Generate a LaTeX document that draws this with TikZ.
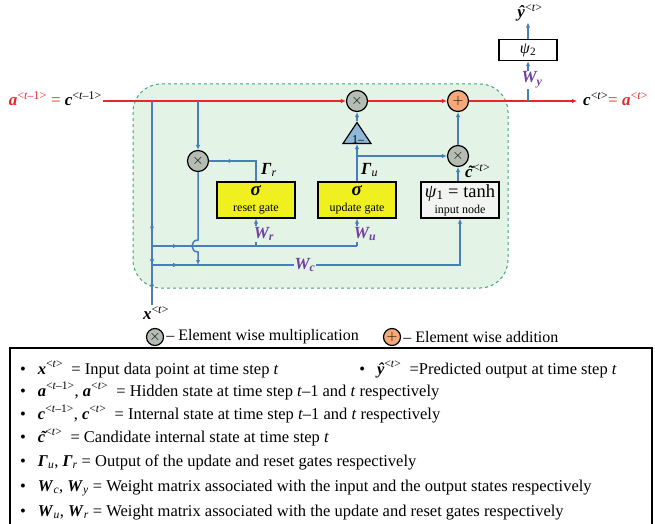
\documentclass[tikz,border=0pt]{standalone}
\usepackage{fontspec}
\setmainfont{Liberation Serif}
\usetikzlibrary{arrows.meta,shapes.geometric,decorations.markings}
\definecolor{redl}{HTML}{E8262C}
\definecolor{bluel}{HTML}{4A7EBB}
\definecolor{cellfill}{HTML}{E3F3E6}
\definecolor{celldraw}{HTML}{3CA878}
\definecolor{gateyel}{HTML}{F0F020}
\definecolor{trifill}{HTML}{8DB8D8}
\definecolor{mulfill}{HTML}{B4BCB4}
\definecolor{addfill}{HTML}{F5A878}
\definecolor{wpurple}{HTML}{7040A0}
\definecolor{inpfill}{HTML}{F2F4F2}
\newcommand\bvar[1]{\textbf{\textit{#1}}}
\newcommand\supt{\textsuperscript{<\textit{t}>}}
\newcommand\suptm{\textsuperscript{<\textit{t}–1>}}
\newcommand\fsz[1]{\fontsize{#1}{#1}\selectfont}
\newcommand\ctil{\bvar{\makebox[0pt][l]{\kern0.16em\smash{˜}}c}}
\tikzset{
  op/.style={circle,draw=black,line width=1.2pt,minimum size=21pt,inner sep=0pt,font=\fsz{14}},
  mulop/.style={op,fill=mulfill},
  addop/.style={op,fill=addfill},
  gatebox/.style={draw=black,line width=1.4pt,fill=gateyel,minimum width=78pt,minimum height=36pt,align=center,inner sep=1pt,font={\fontsize{12}{16}\selectfont}},
  conn/.style={draw=bluel,line width=1.5pt},
  arr/.style={-{Latex[length=5pt,width=4.5pt]}},
  redc/.style={draw=redl,line width=1.5pt},
  wlab/.style={text=wpurple,font=\fsz{17}\bfseries\itshape,fill=cellfill,inner sep=1pt},
  dlab/.style={font=\fsz{17},inner sep=1pt},
  lg/.style={font=\fsz{16.5},inner sep=0pt,anchor=base west},
  midarr/.style={postaction=decorate,decoration={markings,mark=at position #1 with {\arrow{Latex[length=5pt,width=4.5pt]}}}}
}
\begin{document}
\begin{tikzpicture}[x=1pt,y=-1pt]
\useasboundingbox (0,0) rectangle (655,524);
% cell
\draw[fill=cellfill,draw=celldraw,dashed,line width=1pt,rounded corners=28pt] (133,84) rectangle (508,288);
% operators
\node[mulop] (mulR) at (198,161) {$\times$};
\node[mulop] (mulU) at (357,101) {$\times$};
\node[addop] (addC) at (458,101) {$+$};
\node[mulop] (mulC) at (458,156) {$\times$};
\node[isosceles triangle,shape border rotate=90,isosceles triangle stretches,minimum width=28pt,minimum height=21pt,draw=black,line width=1.2pt,fill=trifill,inner sep=0pt] (tri) at (357,136) {};
\node[font=\fsz{12},inner sep=0pt] (trit) at (358,140) {1–};
% gates
\node[gatebox] (reset) at (256,200) {{\fontsize{19}{16}\selectfont\bvar{σ}}\\reset gate};
\node[gatebox] (upd) at (357,200) {{\fontsize{19}{16}\selectfont\bvar{σ}}\\update gate};
\node[gatebox,fill=inpfill] (inp) at (460,200) {{\fontsize{18.5}{16}\selectfont\textit{ψ}\textsubscript{1} = tanh}\\input node};
\node[draw=black,line width=1.4pt,fill=white,minimum width=58pt,minimum height=21pt,inner sep=0pt,font=\fsz{16}] (psi2) at (528,50) {\textit{ψ}\textsubscript{2}};
% coordinates
\coordinate (lstart) at (103,101);
\coordinate (rend) at (577,101);
\coordinate (tapX) at (152,101);
\coordinate (tapR) at (198,101);
\coordinate (tapY) at (528,101);
\coordinate (j1) at (152,246);
\coordinate (j2) at (152,265);
\coordinate (ju) at (357,246);
\coordinate (jr) at (256,246);
\coordinate (bu) at (357,156);
\coordinate (hopA) at (198,240);
\coordinate (hopB) at (198,252);
\coordinate (rin) at (198,265);
% labels
\node[dlab,anchor=base east] (lleft) at (103,106) {\bvar{\textcolor{redl}{a}}\textcolor{redl}{\suptm\ =} \bvar{c}\suptm};
\node[dlab,anchor=base west] (lright) at (582,106) {\bvar{c}\supt\textcolor{redl}{= \bvar{a}\supt}};
\node[dlab] (xlab) at (156,313) {\bvar{x}\supt};
\node[dlab] (yhat) at (530,13) {\bvar{ŷ}\supt};
% red path
\draw[redc,arr] (lstart) -- (mulU);
\draw[redc,arr] (mulU) -- (addC);
\draw[redc,arr] (addC) -- (rend);
% blue connectors
\draw[conn,arr] (tapR) -- (mulR.north);
\draw[conn,midarr=0.9] (tapX) -- (j1);
\draw[conn,midarr=0.5] (j2) -- (j1);
\draw[conn,midarr=0.6] (j2 |- xlab.north) -- (j2);
\draw[conn,midarr=0.127] (j1) -- (ju);
\draw[conn,arr] (ju) -- (upd.south);
\draw[conn,arr] (jr) -- (reset.south);
\draw[conn,arr,midarr=0.074] (j2) -| (inp.south);
\draw[conn,arr] (mulR.south) -- (hopA) .. controls (190,240) and (190,252) .. (hopB) -- (rin);
\draw[conn,midarr=0.76] (reset.north) |- (mulR.east);
\draw[conn,arr] (upd.north) -- (tri.south);
\draw[conn,arr] (bu) -- (mulC.west);
\draw[conn,arr] (tri.apex) -- (mulU.south);
\draw[conn,arr] (inp.north -| mulC) -- (mulC.south);
\draw[conn,arr] (mulC.north) -- (addC.south);
\draw[conn,arr] (tapY) -- (psi2.south);
\draw[conn,arr] (psi2.north) -- (psi2.north |- yhat.south);
% weight labels
\node[wlab] (wr) at (264,234) {W\textsubscript{\textit{r}}};
\node[wlab] (wu) at (365,234) {W\textsubscript{\textit{u}}};
\node[wlab] (wc) at (305,265) {W\textsubscript{\textit{c}}};
\node[wlab,fill=white] (wy) at (532,80) {W\textsubscript{\textit{y}}};
\node[dlab,anchor=west] (gr) at (260,170) {\bvar{Γ}\textsubscript{\textit{r}}};
\node[dlab,anchor=west] (gu) at (360,170) {\bvar{Γ}\textsubscript{\textit{u}}};
\node[dlab,anchor=west] (ct) at (464,171) {\ctil\supt};
% legend
\node[mulop,minimum size=17pt] (lgm) at (155,337) {$\times$};
\node[font=\fsz{16},anchor=west,inner sep=2pt] (lgmt) at (lgm.east) {– Element wise multiplication};
\node[addop,minimum size=17pt] (lga) at (392,337) {$+$};
\node[font=\fsz{16},anchor=west,inner sep=2pt] (lgat) at (lga.east) {– Element wise addition};
\draw[line width=1.3pt] (10,348) rectangle (652,540);
\node[lg] (l1) at (20,374) {•\hspace{12pt}\bvar{x}\supt\ \ = Input data point at time step \textit{t}};
\node[lg,anchor=base east] (l1b) at (617,374) {•\hspace{12pt}\bvar{ŷ}\supt\ \ =Predicted output at time step \textit{t}};
\node[lg] (l2) at (20,396) {•\hspace{12pt}\bvar{a}\suptm, \bvar{a}\supt\ \ = Hidden state at time step \textit{t}–1 and \textit{t} respectively};
\node[lg] (l3) at (20,419) {•\hspace{12pt}\bvar{c}\suptm, \bvar{c}\supt\ \ = Internal state at time step \textit{t}–1 and \textit{t} respectively};
\node[lg] (l4) at (20,442) {•\hspace{12pt}\ctil\supt\ \ = Candidate internal state at time step \textit{t}};
\node[lg] (l5) at (20,466) {•\hspace{12pt}\bvar{Γ}\textsubscript{\textit{u}}, \bvar{Γ}\textsubscript{\textit{r}} = Output of the update and reset gates respectively};
\node[lg] (l6) at (20,491) {•\hspace{12pt}\bvar{W}\textsubscript{\textit{c}}, \bvar{W}\textsubscript{\textit{y}} = Weight matrix associated with the input and the output states respectively};
\node[lg] (l7) at (20,516) {•\hspace{12pt}\bvar{W}\textsubscript{\textit{u}}, \bvar{W}\textsubscript{\textit{r}} = Weight matrix associated with the update and reset gates respectively};
\end{tikzpicture}
\end{document}
